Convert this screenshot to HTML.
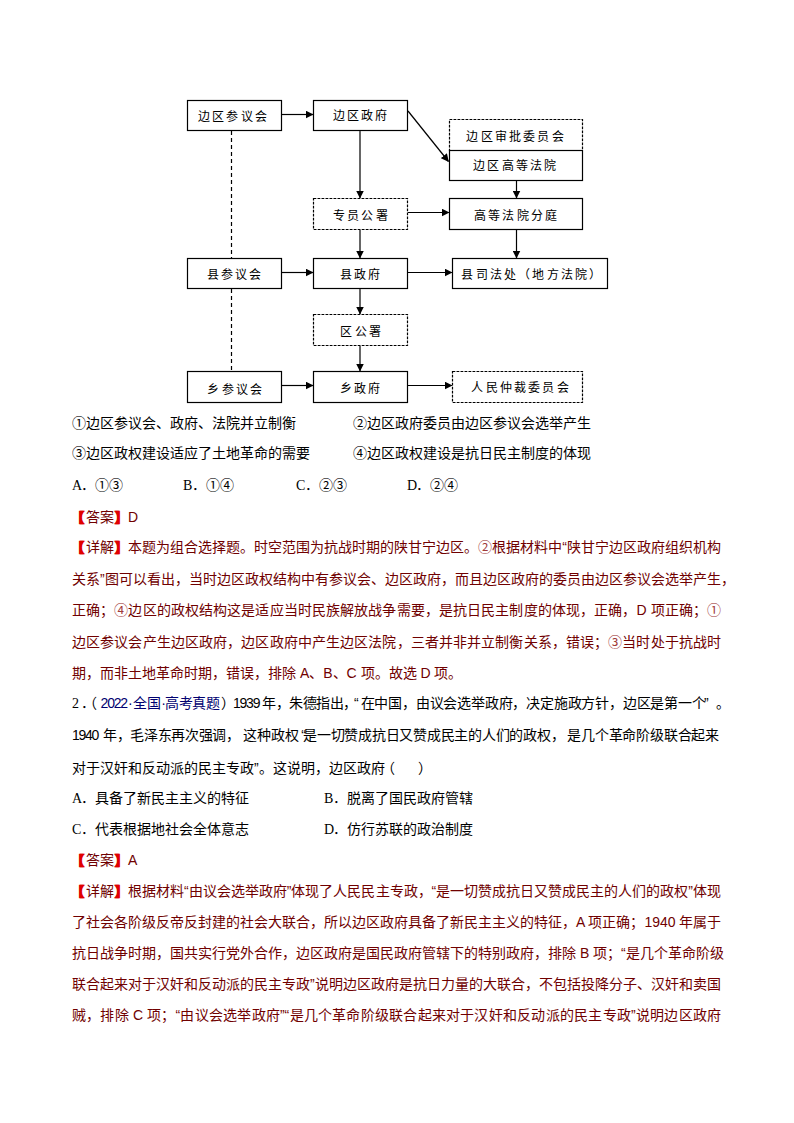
<!DOCTYPE html>
<html lang="zh-CN">
<head>
<meta charset="utf-8">
<style>
html,body{margin:0;padding:0;background:#fff;}
body{width:794px;height:1123px;position:relative;overflow:hidden;font-family:"Liberation Sans",sans-serif;font-size:14px;color:#000;}
.l{position:absolute;left:72px;height:20px;line-height:20px;white-space:nowrap;}
.j{width:649px;text-align:justify;text-align-last:justify;}
.s{position:absolute;top:0;}
.r{color:#700000;}
.b{color:#e00000;font-weight:bold;text-shadow:0.6px 0 0 #e00000;}
.ol{font-family:"Liberation Serif",serif;display:inline-block;width:9.2px;}
.cr{color:#a03a3a;}
.lb{position:relative;left:-2px;}
.n{color:#000070;}
.bx{position:absolute;width:200px;height:20px;font-size:12px;letter-spacing:2.2px;text-indent:2.2px;text-align:center;white-space:nowrap;line-height:20px;color:#000;}
svg{position:absolute;left:0;top:0;}
</style>
</head>
<body>
<svg width="794" height="420" viewBox="0 0 794 420">
<defs>
<marker id="ah" markerWidth="8" markerHeight="8" refX="7.5" refY="4" orient="auto" markerUnits="userSpaceOnUse">
<path d="M0,0 L8,4 L0,8 z" fill="#000"/>
</marker>
</defs>
<g fill="none" stroke="#000" stroke-width="1.2" stroke-linecap="butt">
<rect x="187.5" y="100.5" width="94" height="30"/>
<rect x="313.5" y="100.5" width="94" height="30"/>
<rect x="449.5" y="119.5" width="133" height="31" stroke-dasharray="2.8,1.2"/>
<rect x="449.5" y="150.5" width="133" height="30"/>
<rect x="313.5" y="198.5" width="94" height="31" stroke-dasharray="2.8,1.2"/>
<rect x="449.5" y="198.5" width="133" height="31"/>
<rect x="187.5" y="258.5" width="94" height="30"/>
<rect x="313.5" y="258.5" width="94" height="30"/>
<rect x="452.5" y="258.5" width="155" height="30"/>
<rect x="313.5" y="314.5" width="94" height="31" stroke-dasharray="2.8,1.2"/>
<rect x="187.5" y="371.5" width="94" height="31"/>
<rect x="313.5" y="371.5" width="94" height="31"/>
<rect x="452.5" y="371.5" width="130" height="31" stroke-dasharray="2.8,1.2"/>
<line x1="231.5" y1="131" x2="231.5" y2="258" stroke-dasharray="4,3"/>
<line x1="231.5" y1="289" x2="231.5" y2="371" stroke-dasharray="4,3"/>
<line x1="282" y1="114.5" x2="313" y2="114.5" marker-end="url(#ah)"/>
<line x1="408" y1="111" x2="448.5" y2="161.5" marker-end="url(#ah)"/>
<line x1="282" y1="272.5" x2="313" y2="272.5" marker-end="url(#ah)"/>
<line x1="408" y1="272.5" x2="452" y2="272.5" marker-end="url(#ah)"/>
<line x1="408" y1="212.5" x2="449" y2="212.5" marker-end="url(#ah)"/>
<line x1="282" y1="385.5" x2="313" y2="385.5" marker-end="url(#ah)"/>
<line x1="408" y1="385.5" x2="452" y2="385.5" marker-end="url(#ah)"/>
<line x1="516.5" y1="181" x2="516.5" y2="198" marker-end="url(#ah)"/>
<line x1="516.5" y1="230" x2="516.5" y2="258" marker-end="url(#ah)"/>
</g>
<g fill="none" stroke="#555" stroke-width="1.8">
<line x1="360" y1="131" x2="360" y2="198" marker-end="url(#ah)"/>
<line x1="360" y1="230" x2="360" y2="258" marker-end="url(#ah)"/>
<line x1="360" y1="289" x2="360" y2="314" marker-end="url(#ah)"/>
<line x1="360" y1="346" x2="360" y2="371" marker-end="url(#ah)"/>
</g>
</svg>
<div class="bx" style="left:132.4px;top:106.5px;">边区参议会</div>
<div class="bx" style="left:260.0px;top:106.3px;">边区政府</div>
<div class="bx" style="left:415.0px;top:126.7px;">边区审批委员会</div>
<div class="bx" style="left:414.8px;top:156.3px;">边区高等法院</div>
<div class="bx" style="left:260.4px;top:205.7px;">专员公署</div>
<div class="bx" style="left:415.6px;top:205.9px;">高等法院分庭</div>
<div class="bx" style="left:134.1px;top:264.6px;">县参议会</div>
<div class="bx" style="left:259.9px;top:264.6px;">县政府</div>
<div class="bx" style="left:431.3px;top:264.6px;">县司法处（地方法院）</div>
<div class="bx" style="left:260.6px;top:321.7px;">区公署</div>
<div class="bx" style="left:134.8px;top:379.5px;">乡参议会</div>
<div class="bx" style="left:260.3px;top:378.8px;">乡政府</div>
<div class="bx" style="left:420.0px;top:377.9px;">人民仲裁委员会</div>

<div class="l" style="top:413px;">①边区参议会、政府、法院并立制衡</div>
<div class="l" style="top:413px;left:353px;">②边区政府委员由边区参议会选举产生</div>
<div class="l" style="top:443px;">③边区政权建设适应了土地革命的需要</div>
<div class="l" style="top:443px;left:353px;">④边区政权建设是抗日民主制度的体现</div>
<div class="l" style="top:475px;"><span class="ol">A</span>．①③</div>
<div class="l" style="top:475px;left:183px;"><span class="ol">B</span>．①④</div>
<div class="l" style="top:475px;left:296px;"><span class="ol">C</span>．②③</div>
<div class="l" style="top:475px;left:407px;"><span class="ol">D</span>．②④</div>
<div class="l r" style="top:507px;"><span class="b lb">【</span>答案<span class="b">】</span>D</div>
<div class="l r j" style="top:537px;"><span class="b lb">【</span>详解<span class="b">】</span>本题为组合选择题。时空范围为抗战时期的陕甘宁边区。<span class="cr">②</span>根据材料中“陕甘宁边区政府组织机构</div>
<div class="l r j" style="top:569px;">关系”图可以看出，当时边区政权结构中有参议会、边区政府，而且边区政府的委员由边区参议会选举产生，</div>
<div class="l r j" style="top:600px;">正确；<span class="cr">④</span>边区的政权结构这是适应当时民族解放战争需要，是抗日民主制度的体现，正确，D 项正确；<span class="cr">①</span></div>
<div class="l r j" style="top:632px;">边区参议会产生边区政府，边区政府中产生边区法院，三者并非并立制衡关系，错误；<span class="cr">③</span>当时处于抗战时</div>
<div class="l r" style="top:663px;">期，而非土地革命时期，错误，排除 A、B、C 项。故选 D 项。</div>
<div class="l" style="top:693px;"><span class="s" style="left:0px;"><span class="ol">2</span>．</span><span class="s" style="left:11.3px;">（</span><span class="s n" style="left:28.6px;letter-spacing:-1.2px;">2022</span><span class="s n" style="left:56px;">·</span><span class="s n" style="left:61.2px;letter-spacing:0.3px;">全国</span><span class="s n" style="left:89.3px;">·</span><span class="s n" style="left:93px;letter-spacing:-0.5px;">高考真题</span><span class="s" style="left:149.1px;">）</span><span class="s" style="left:160.9px;letter-spacing:-1.2px;">1939</span><span class="s" style="left:189.6px;">年，</span><span class="s" style="left:217px;letter-spacing:-0.4px;">朱德指出，</span><span class="s" style="left:282px;">“</span><span class="s" style="left:288.5px;letter-spacing:-0.2px;">在中国，由议会选举政府，决定施政方针，边区是第一个</span><span class="s" style="left:632px;">”</span><span class="s" style="left:644.4px;">。</span></div>
<div class="l" style="top:725px;"><span class="s" style="left:0px;letter-spacing:-1.3px;">1940</span><span class="s" style="left:30.5px;">年，</span><span class="s" style="left:58.3px;letter-spacing:-0.35px;">毛泽东再次强调，</span><span class="s" style="left:170.5px;letter-spacing:0.3px;">这种政权</span><span class="s" style="left:229.3px;">“</span><span class="s" style="left:231.2px;letter-spacing:-0.25px;">是一切赞成抗日又赞成民主的人们的政权，</span><span class="s" style="left:495.2px;letter-spacing:-0.2px;">是几个革命阶级联合起来</span></div>
<div class="l" style="top:757.5px;">对于汉奸和反动派的民主专政”。这说明，边区政府<span style="margin-left:-3.8px">（</span><span style="display:inline-block;width:23px"></span>）</div>
<div class="l" style="top:788px;"><span class="ol">A</span>．具备了新民主主义的特征</div>
<div class="l" style="top:788px;left:324px;"><span class="ol">B</span>．脱离了国民政府管辖</div>
<div class="l" style="top:818.5px;"><span class="ol">C</span>．代表根据地社会全体意志</div>
<div class="l" style="top:818.5px;left:324px;"><span class="ol">D</span>．仿行苏联的政治制度</div>
<div class="l r" style="top:850px;"><span class="b lb">【</span>答案<span class="b">】</span>A</div>
<div class="l r j" style="top:880.5px;"><span class="b lb">【</span>详解<span class="b">】</span>根据材料“由议会选举政府”体现了人民民主专政，“是一切赞成抗日又赞成民主的人们的政权”体现</div>
<div class="l r j" style="top:911.5px;">了社会各阶级反帝反封建的社会大联合，所以边区政府具备了新民主主义的特征，A 项正确；1940 年属于</div>
<div class="l r j" style="top:943px;">抗日战争时期，国共实行党外合作，边区政府是国民政府管辖下的特别政府，排除 B 项；“是几个革命阶级</div>
<div class="l r j" style="top:974px;">联合起来对于汉奸和反动派的民主专政”说明边区政府是抗日力量的大联合，不包括投降分子、汉奸和卖国</div>
<div class="l r j" style="top:1005px;">贼，排除 C 项；“由议会选举政府”“是几个革命阶级联合起来对于汉奸和反动派的民主专政”说明边区政府</div>
</body>
</html>
